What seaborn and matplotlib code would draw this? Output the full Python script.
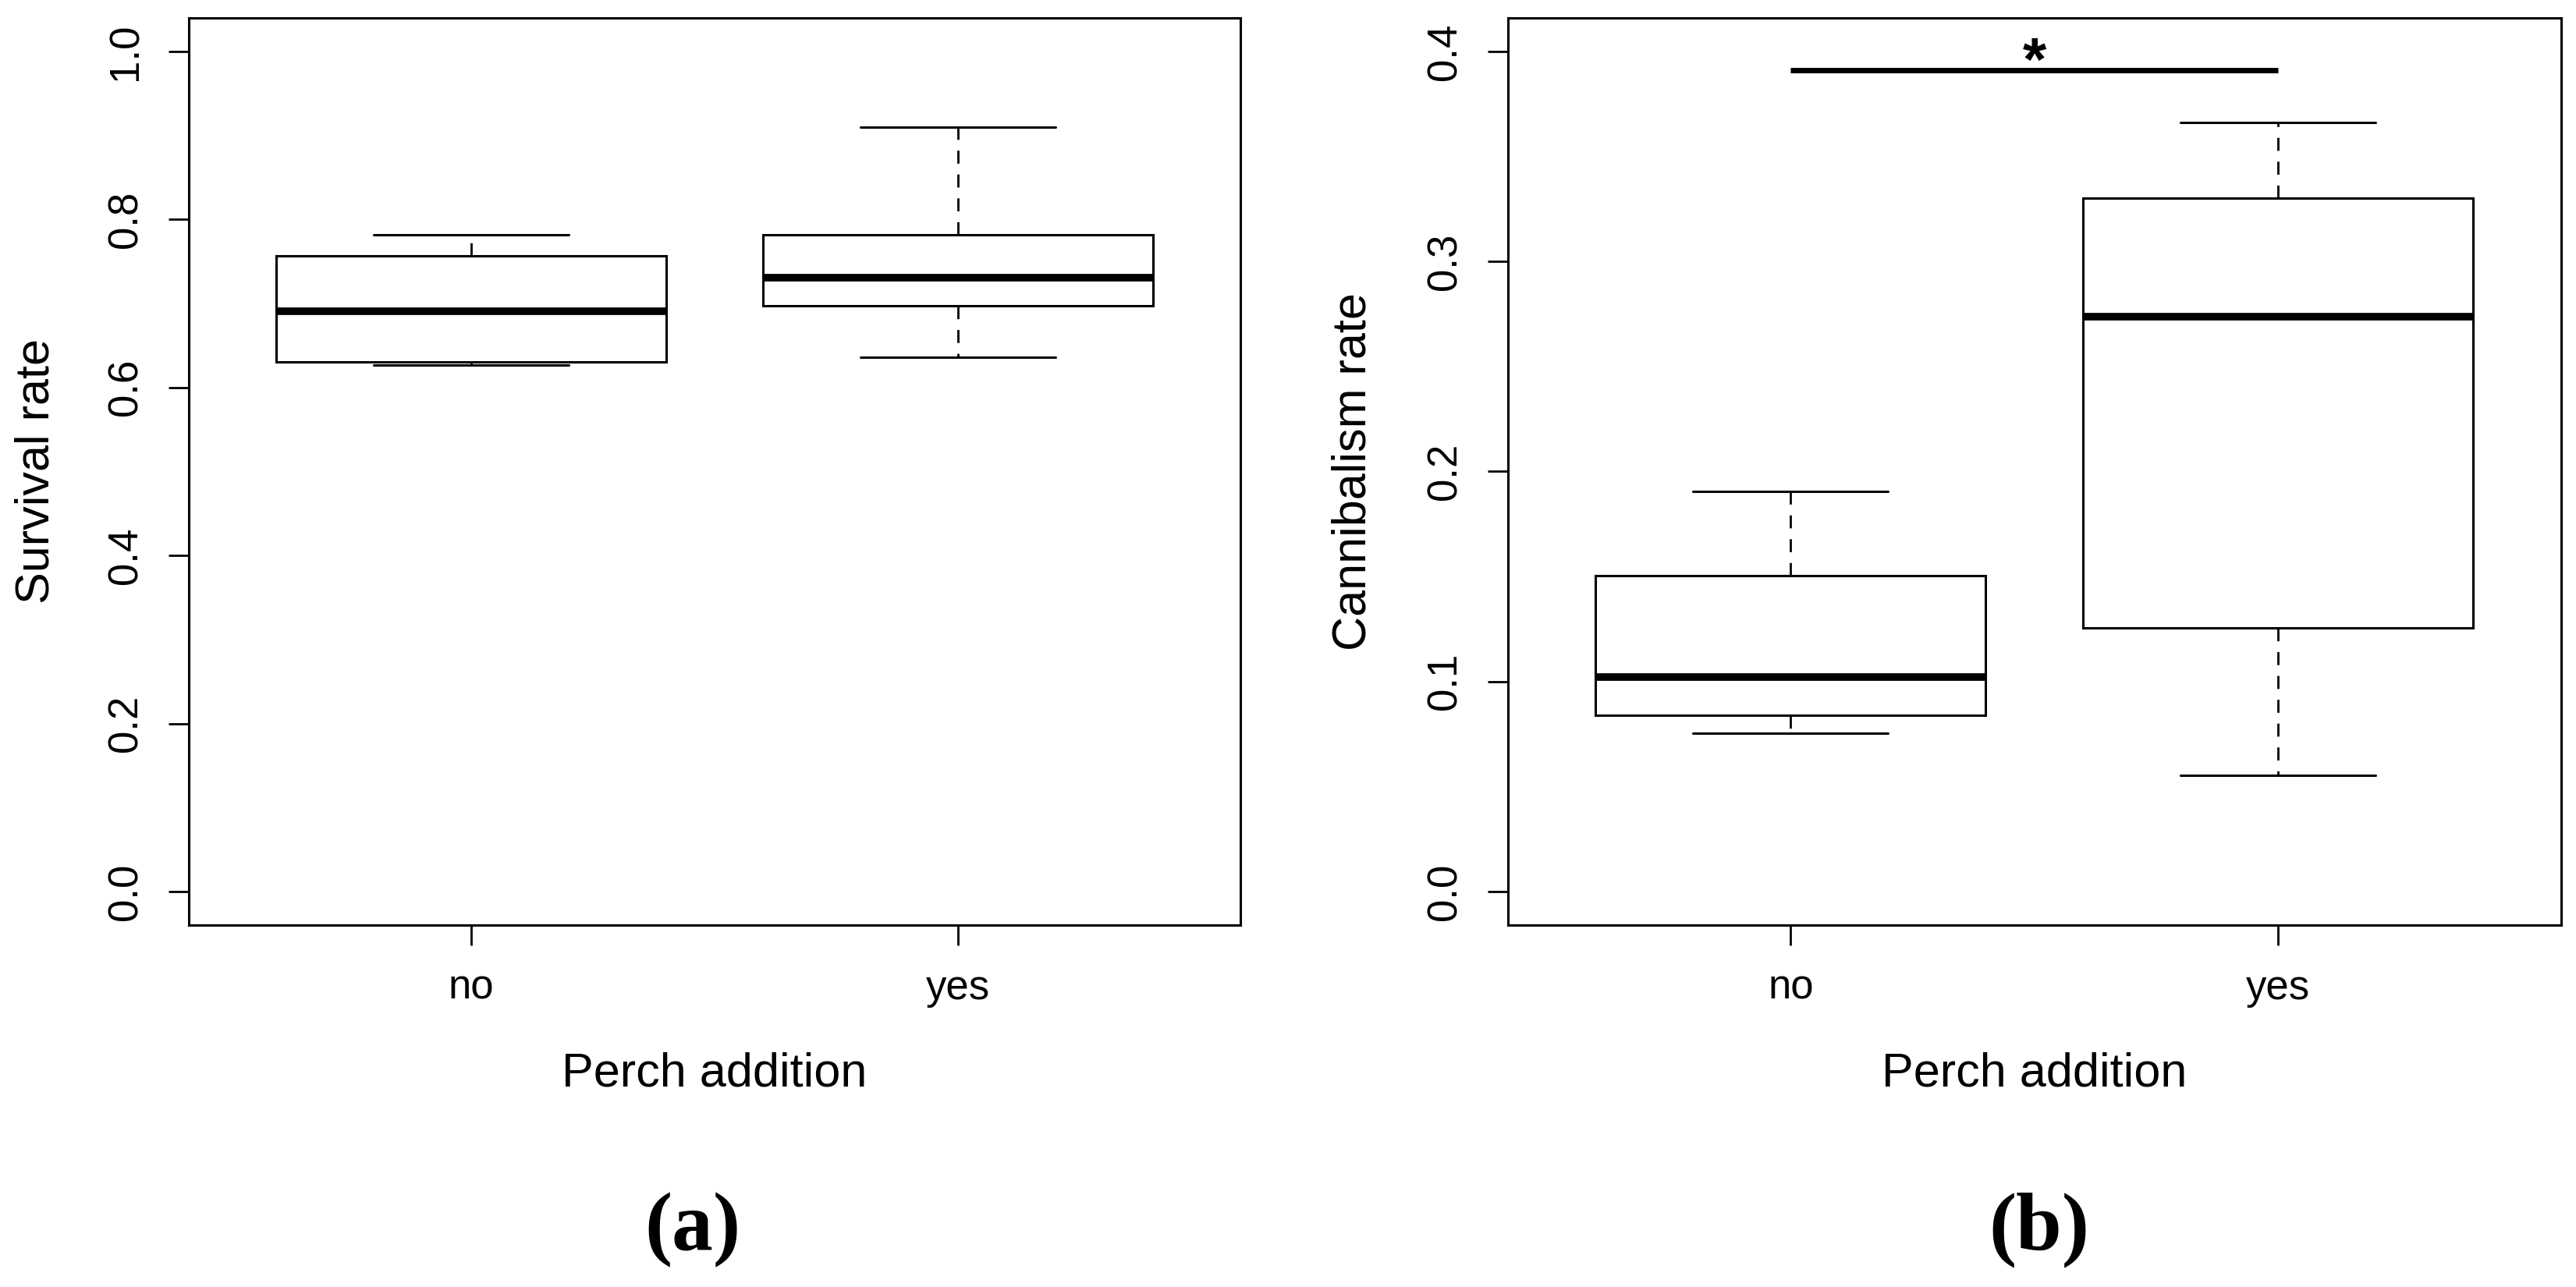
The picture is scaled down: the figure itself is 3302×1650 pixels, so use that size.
import numpy as np
import pandas as pd
import matplotlib
matplotlib.use("Agg")
import matplotlib.pyplot as plt
import seaborn as sns

# ---- data ----
categories = ["no", "yes"]
survival_no = [0.627, 0.630, 0.691, 0.757, 0.782]
survival_yes = [0.636, 0.697, 0.731, 0.782, 0.910]
cannibalism_no = [0.0755, 0.0841, 0.1022, 0.1503, 0.1906]
cannibalism_yes = [0.0552, 0.1256, 0.2736, 0.3303, 0.3663]
survival_ticks = [0.0, 0.2, 0.4, 0.6, 0.8, 1.0]
cannibalism_ticks = [0.0, 0.1, 0.2, 0.3, 0.4]
sig_level = 0.391
sig_label = "*"

sns.set_style("ticks")
plt.rcParams["font.family"] = ["Liberation Sans", "DejaVu Sans"]
plt.rcParams["text.color"] = "black"

df_a = pd.DataFrame({"Perch addition": ["no"] * len(survival_no) + ["yes"] * len(survival_yes),
                     "value": survival_no + survival_yes})
df_b = pd.DataFrame({"Perch addition": ["no"] * len(cannibalism_no) + ["yes"] * len(cannibalism_yes),
                     "value": cannibalism_no + cannibalism_yes})

fig = plt.figure(figsize=(33.02, 16.5), dpi=100)
ax_a = fig.add_axes([0.0733, 0.2812, 0.4082, 0.7049])
ax_b = fig.add_axes([0.5854, 0.2812, 0.4088, 0.7049])

box_kws = dict(order=categories, whis=(0, 100), showfliers=False, width=0.8,
               color="white", linecolor="black", linewidth=2.2,
               boxprops=dict(facecolor="white", edgecolor="black", linewidth=2.2),
               medianprops=dict(color="black", linewidth=7, solid_capstyle="butt"),
               whiskerprops=dict(color="black", linewidth=2.0, linestyle=(0, (6, 5))),
               capprops=dict(color="black", linewidth=2.2))

for ax, df, ylab, ticks, ylim, fmt in [
        (ax_a, df_a, "Survival rate", survival_ticks, (-0.04, 1.04), "{:.1f}"),
        (ax_b, df_b, "Cannibalism rate", cannibalism_ticks, (-0.016, 0.416), "{:.1f}")]:
    sns.boxplot(data=df, x="Perch addition", y="value", ax=ax, **box_kws)
    ax.set_xlim(-0.58, 1.58)
    ax.set_ylim(*ylim)
    ax.set_yticks(ticks)
    ax.set_yticklabels([fmt.format(t) for t in ticks])
    for sp in ax.spines.values():
        sp.set_visible(True)
        sp.set_linewidth(2.2)
        sp.set_color("black")
    ax.tick_params(axis="both", direction="out", length=19, width=2.0, labelsize=38,
                   colors="black", bottom=True, left=True, top=False, right=False)
    ax.tick_params(axis="x", pad=21)
    ax.tick_params(axis="y", pad=21)
    for lab in ax.get_yticklabels():
        lab.set_rotation(90)
        lab.set_va("center")
    ax.set_xlabel("Perch addition", fontsize=44, color="black")
    ax.set_ylabel(ylab, fontsize=44, color="black")
    ax.xaxis.set_label_coords(0.5, -0.164)
    ax.xaxis.label.set_va("center")
    ax.grid(False)

ax_a.yaxis.set_label_coords(-0.1447, 0.5)
ax_b.yaxis.set_label_coords(-0.1467, 0.5)
ax_a.yaxis.label.set_va("center")
ax_b.yaxis.label.set_va("center")

# significance bar on panel b
ax_b.plot([0, 1], [sig_level, sig_level], color="black", linewidth=5, solid_capstyle="butt")
ax_b.text(0.5, 0.3862, sig_label, ha="center", va="baseline", fontsize=56,
          fontweight="bold", color="black")

fig.text(0.2689, 0.029, "(a)", ha="center", va="baseline", fontsize=76, color="black",
         fontweight="bold", family=["Liberation Serif", "DejaVu Serif"])
fig.text(0.7916, 0.029, "(b)", ha="center", va="baseline", fontsize=76, color="black",
         fontweight="bold", family=["Liberation Serif", "DejaVu Serif"])

fig.savefig("out.png", dpi=100, facecolor="white")
